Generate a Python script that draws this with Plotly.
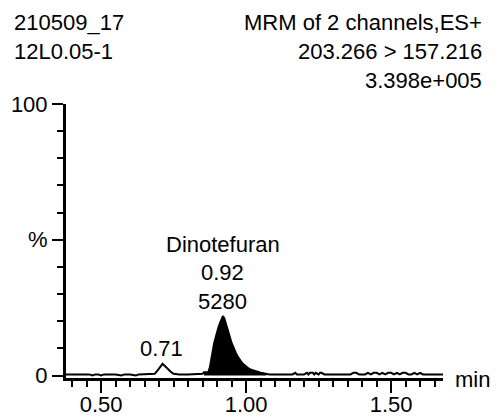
import plotly.graph_objects as go

# Chromatogram trace: retention time (min) and relative intensity (%)
rt_min = [0.379, 0.40, 0.42, 0.44, 0.46, 0.47, 0.48, 0.49, 0.50, 0.51, 0.53, 0.55,
          0.57, 0.58, 0.60, 0.62, 0.63, 0.65, 0.67, 0.685, 0.695, 0.705, 0.712,
          0.72, 0.73, 0.74, 0.75, 0.77, 0.80, 0.83, 0.85, 0.855, 0.87, 0.875,
          0.88, 0.885, 0.89, 0.895, 0.90, 0.905, 0.91, 0.915, 0.92, 0.925, 0.93,
          0.935, 0.94, 0.945, 0.95, 0.955, 0.96, 0.965, 0.97, 0.975, 0.98, 0.985,
          0.99, 0.995, 1.00, 1.01, 1.02, 1.03, 1.04, 1.05, 1.06, 1.07, 1.08,
          1.10, 1.13, 1.16, 1.17, 1.175, 1.20, 1.21, 1.215, 1.22, 1.23, 1.235,
          1.24, 1.25, 1.255, 1.26, 1.27, 1.28, 1.30, 1.33, 1.36, 1.37, 1.38,
          1.39, 1.41, 1.42, 1.43, 1.44, 1.45, 1.46, 1.47, 1.48, 1.49, 1.50,
          1.51, 1.52, 1.53, 1.54, 1.55, 1.56, 1.57, 1.58, 1.59, 1.60, 1.61,
          1.62, 1.64, 1.66, 1.679]
intensity = [0.4, 0.4, 0.4, 0.4, 0.4, 0.0, 0.4, 0.4, 0.0, 0.4, 0.4, 0.4,
             0.0, 0.4, 0.4, 0.0, 0.4, 0.4, 0.4, 0.6, 1.9, 3.4, 4.3,
             3.5, 2.3, 1.4, 0.6, 0.4, 0.4, 0.4, 0.6, 1.2, 1.3, 3.0,
             6.5, 9.5, 12.0, 14.0, 16.3, 17.8, 19.3, 20.8, 21.9, 21.0, 19.4,
             17.5, 15.5, 13.8, 12.0, 10.5, 9.2, 8.2, 7.2, 6.3, 5.5, 4.8,
             4.2, 3.7, 3.2, 2.5, 2.0, 1.6, 1.3, 1.0, 0.8, 0.6, 0.4,
             0.4, 0.4, 0.4, 1.0, 0.4, 0.4, 1.0, 0.4, 1.0, 1.0, 0.4,
             1.0, 0.4, 1.0, 1.0, 0.4, 0.4, 0.4, 0.4, 0.4, 1.0, 1.0,
             0.4, 0.4, 1.0, 0.4, 1.0, 1.0, 0.4, 1.0, 0.4, 1.0, 1.0,
             0.4, 1.0, 0.4, 1.0, 1.0, 0.4, 0.4, 1.0, 0.4, 1.0, 0.4,
             0.4, 0.4, 0.4, 0.4]

# Integrated window of the Dinotefuran peak
area_start, area_end = 0.855, 1.07

# Peak labels
peak_rt = [0.71, 0.92]
compound = "Dinotefuran"
peak_area = "5280"

# Header texts
sample_id = "210509_17"
sample_desc = "12L0.05-1"
func_desc = "MRM of 2 channels,ES+"
transition = "203.266 > 157.216"
base_peak = "3.398e+005"

x_tickvals = [0.50, 0.75, 1.00, 1.25, 1.50]
x_ticktext = ["0.50", "", "1.00", "", "1.50"]
y_tickvals = [0, 50, 100]
y_ticktext = ["0", "%", "100"]

FONT = "Liberation Sans, Arial, sans-serif"
FS = 22
L, R, T, B = 66, 55, 104, 39
W, H = 498, 417
PW, PH = W - L - R, H - T - B

fig = go.Figure()

area_x = [t for t in rt_min if area_start <= t <= area_end]
area_y = [v for t, v in zip(rt_min, intensity) if area_start <= t <= area_end]
fig.add_trace(go.Scatter(x=area_x, y=area_y, mode="lines", fill="tozeroy",
                         fillcolor="black", line=dict(color="black", width=0),
                         hoverinfo="skip"))
fig.add_trace(go.Scatter(x=rt_min, y=intensity, mode="lines",
                         line=dict(color="black", width=2)))


def px_x(px):
    return (px - L) / PW


def px_y(py):
    return (H - B - py) / PH


annotations = [
    dict(x=px_x(12), y=px_y(22), xref="paper", yref="paper", text=sample_id,
         xanchor="left", yanchor="middle"),
    dict(x=px_x(12), y=px_y(51), xref="paper", yref="paper", text=sample_desc,
         xanchor="left", yanchor="middle"),
    dict(x=px_x(484), y=px_y(22), xref="paper", yref="paper", text=func_desc,
         xanchor="right", yanchor="middle"),
    dict(x=px_x(484), y=px_y(51), xref="paper", yref="paper", text=transition,
         xanchor="right", yanchor="middle"),
    dict(x=px_x(484), y=px_y(80), xref="paper", yref="paper", text=base_peak,
         xanchor="right", yanchor="middle"),
    dict(x=px_x(472), y=px_y(379), xref="paper", yref="paper", text="min",
         xanchor="center", yanchor="middle"),
    dict(x=peak_rt[0], y=9.8, text=f"{peak_rt[0]:.2f}", yanchor="middle"),
    dict(x=peak_rt[1], y=48.4, text=compound, yanchor="middle"),
    dict(x=peak_rt[1], y=38.1, text=f"{peak_rt[1]:.2f}", yanchor="middle"),
    dict(x=peak_rt[1], y=27.4, text=peak_area, yanchor="middle"),
]
for a in annotations:
    a.update(showarrow=False, font=dict(family=FONT, size=FS, color="black"))

fig.update_layout(
    width=W, height=H,
    margin=dict(l=L, r=R, t=T, b=B, pad=0, autoexpand=False),
    paper_bgcolor="white", plot_bgcolor="white",
    showlegend=False,
    font=dict(family=FONT, size=FS, color="black"),
    annotations=annotations,
    xaxis=dict(
        range=[0.379, 1.679], showgrid=False, zeroline=False, automargin=False,
        showline=True, linecolor="black", linewidth=3,
        tickmode="array", tickvals=x_tickvals, ticktext=x_ticktext,
        ticks="outside", ticklen=12, tickwidth=2, tickcolor="black",
        ticklabelstandoff=-7,
        minor=dict(tickmode="array",
                   tickvals=[round(0.40 + 0.05 * i, 2) for i in range(26)],
                   ticks="outside", ticklen=6, tickwidth=2, tickcolor="black"),
        tickfont=dict(family=FONT, size=FS, color="black"),
    ),
    yaxis=dict(
        range=[-0.92, 100], showgrid=False, zeroline=False, automargin=False,
        showline=True, linecolor="black", linewidth=3,
        tickmode="array", tickvals=y_tickvals, ticktext=y_ticktext,
        ticks="outside", ticklen=11, tickwidth=2, tickcolor="black",
        minor=dict(tickmode="array",
                   tickvals=[10 * i for i in range(11)],
                   ticks="outside", ticklen=6, tickwidth=2, tickcolor="black"),
        tickfont=dict(family=FONT, size=FS, color="black"),
    ),
)

fig.write_html("out.html")
